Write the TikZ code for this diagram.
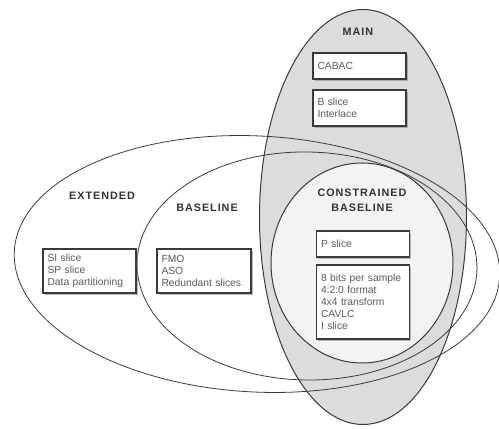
\documentclass[tikz,border=0pt]{standalone}
\usepackage{fontspec}
\setmainfont{Liberation Sans}
\newfontfamily\lblfont[LetterSpace=9]{Liberation Sans}
\usetikzlibrary{shadows}
\definecolor{mainfill}{HTML}{DCDCDC}
\definecolor{cbfill}{HTML}{F3F3F3}
\definecolor{edge}{HTML}{3A3A3A}
\definecolor{boxtext}{HTML}{5A5A5A}
\definecolor{lbltext}{HTML}{333333}
\begin{document}
\begin{tikzpicture}[x=1pt,y=1pt,
  ring/.style={draw=edge, line width=0.8pt},
  featbox/.style={draw=edge, line width=1.1pt, fill=white, text=boxtext,
    font=\fontsize{10.3}{12}\selectfont, align=left, inner xsep=4.5pt, inner ysep=3pt,
    anchor=center, text width=#1,
    drop shadow={shadow xshift=1.5pt, shadow yshift=-2pt, fill=black!45, opacity=0.6}},
  featbox/.default=84pt,
  grouplbl/.style={text=lbltext, font=\lblfont\bfseries\fontsize{10.8}{15}\selectfont, align=center}]
\useasboundingbox (0,0) rectangle (499,429);
% MAIN (filled)
\draw[ring, fill=mainfill, line width=1pt] (363,212) ellipse [x radius=103.5, y radius=207.5];
% CONSTRAINED BASELINE (filled)
\draw[ring, fill=cbfill, line width=1pt] (362,166) ellipse [x radius=91, y radius=100];
% EXTENDED
\draw[ring] (257,165) ellipse [x radius=243, y radius=128, rotate=-3];
% BASELINE
\draw[ring] (307,163) ellipse [x radius=170, y radius=114, rotate=-1];
% labels
\node[grouplbl] (lmain) at (358,397) {MAIN};
\node[grouplbl] (lext) at (102,233) {EXTENDED};
\node[grouplbl] (lbase) at (207,221) {BASELINE};
\node[grouplbl] (lcb) at (362,229) {CONSTRAINED\\BASELINE};
% boxes
\node[featbox, minimum height=26pt] (cabac) at (359.5,363) {CABAC};
\node[featbox, minimum height=36pt] (bslice) at (359.5,321) {B slice\\Interlace};
\node[featbox, minimum height=26pt] (pslice) at (363,185) {P slice};
\node[featbox, minimum height=74pt] (core) at (363,127) {8 bits per sample\\4:2:0 format\\4x4 transform\\CAVLC\\I slice};
\node[featbox, minimum height=44pt] (ext) at (89.5,158) {SI slice\\SP slice\\Data partitioning};
\node[featbox, minimum height=44pt, text width=85pt] (base) at (204,158) {FMO\\ASO\\Redundant slices};
\end{tikzpicture}
\end{document}
